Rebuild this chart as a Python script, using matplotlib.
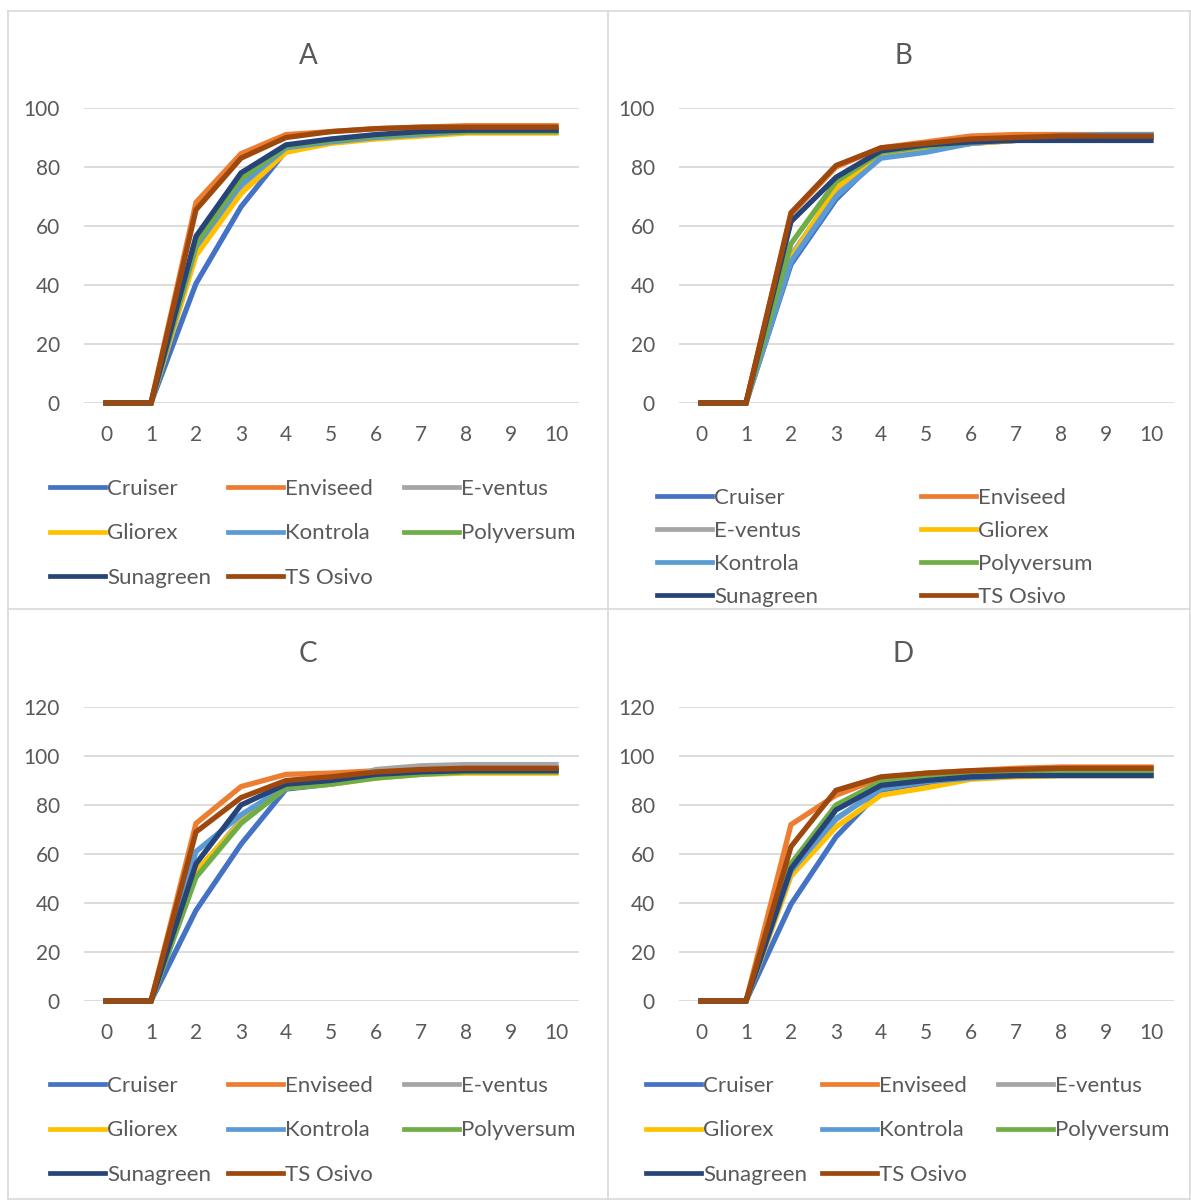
import matplotlib
matplotlib.use("Agg")
import matplotlib.pyplot as plt
from matplotlib.lines import Line2D

plt.rcParams['font.family'] = ['Lato', 'DejaVu Sans']

days = [0, 1, 2, 3, 4, 5, 6, 7, 8, 9, 10]
names = ["Cruiser", "Enviseed", "E-ventus", "Gliorex", "Kontrola",
         "Polyversum", "Sunagreen", "TS Osivo"]
colors = ["#4472C4", "#ED7D31", "#A5A5A5", "#FFC000", "#5B9BD5",
          "#70AD47", "#264478", "#9E480E"]

# one row per variety, same order as names
vals_a = [
    [0, 0, 40.5, 66.5, 85.5, 88.5, 90, 91, 92, 92, 92.5],
    [0, 0, 68, 84.5, 91, 92, 93, 93.5, 94, 94, 94],
    [0, 0, 52, 73, 87, 89, 90.5, 91.5, 92, 92.5, 92.5],
    [0, 0, 50, 71, 85, 88, 89.5, 90.5, 91.5, 91.5, 91.5],
    [0, 0, 53, 74, 86.5, 88.5, 90, 91, 92, 92, 92],
    [0, 0, 54, 76, 87, 89, 90.5, 91.5, 92, 92, 92],
    [0, 0, 56.5, 78, 87.5, 89.5, 91, 92, 92.5, 92.5, 92.5],
    [0, 0, 65.5, 83, 90, 92, 93, 93.5, 93.5, 93.5, 93.5],
]
vals_b = [
    [0, 0, 47, 69, 84, 86, 88, 89, 90, 90.5, 90.5],
    [0, 0, 64, 80, 86.5, 88.5, 90.5, 91, 91, 91, 91],
    [0, 0, 50, 72, 84, 86, 88, 89.5, 90.5, 90.5, 90.5],
    [0, 0, 49, 73, 84.5, 86.5, 88, 89, 90, 90, 90],
    [0, 0, 48, 70, 83, 85, 88, 89.5, 90.5, 91, 91],
    [0, 0, 54, 75, 85, 87, 88.5, 89.5, 90, 90, 90],
    [0, 0, 61.5, 76.5, 85.5, 87.5, 88.5, 89, 89, 89, 89],
    [0, 0, 64.5, 80.5, 86.5, 88, 89.5, 90, 90.5, 90.5, 90.5],
]
vals_c = [
    [0, 0, 37, 64, 86.5, 88.5, 91.5, 93, 94, 94, 94],
    [0, 0, 72.5, 87.5, 92.5, 93, 94, 95, 95, 95, 95],
    [0, 0, 52, 74, 87, 89, 94.5, 96, 96.5, 96.5, 96.5],
    [0, 0, 53, 73, 87, 88.5, 91, 92.5, 93, 93, 93],
    [0, 0, 61, 76, 87.5, 89, 91.5, 93, 94, 94, 94],
    [0, 0, 50.5, 72.5, 87, 88.5, 91, 92.5, 93.5, 93.5, 93.5],
    [0, 0, 56, 80, 88.5, 90, 92.5, 93.5, 94, 94, 94],
    [0, 0, 69, 83, 90, 91.5, 93.5, 94.5, 95, 95, 95],
]
vals_d = [
    [0, 0, 39.5, 67, 86, 89, 91, 92, 92.5, 92.5, 92.5],
    [0, 0, 72, 84, 91, 93, 94, 95, 95.5, 95.5, 95.5],
    [0, 0, 53, 74, 87, 90, 92, 93.5, 94, 94, 94],
    [0, 0, 51, 71, 84, 87, 90.5, 91.5, 92, 92, 92],
    [0, 0, 53, 74.5, 86.5, 89.5, 91, 92, 92.5, 92.5, 92.5],
    [0, 0, 56, 80, 89.5, 92, 93, 94, 94, 94, 94],
    [0, 0, 54, 78, 88, 90, 91.5, 92, 92, 92, 92],
    [0, 0, 63, 86, 91.5, 93, 94, 94.5, 95, 95, 95],
]

W, H = 1191, 1200
fig = plt.figure(figsize=(W / 100, H / 100), dpi=100)

TXT = "#595959"
GRID = "#d9d9d9"

def px(x, y):
    # pixel position -> figure fraction
    return x / W, 1 - y / H

# panel frames
for xs, ys in [((8, 1190), (11, 11)), ((8, 1190), (1199, 1199)),
               ((8, 1190), (609, 609)), ((8, 8), (11, 1199)),
               ((1190, 1190), (11, 1199)), ((608, 608), (11, 1199))]:
    fig.add_artist(Line2D([x / W for x in xs], [1 - y / H for y in ys],
                          color=GRID, lw=1.2))

# title, data, axes box (left, bottom, top px), ymax, title pos,
# legend column x positions, legend top y, label spacing
panels = [
    ("A", vals_a, (83.5, 403, 108), 100, (308, 56), [50, 228, 404], 479, 1.1),
    ("B", vals_b, (678.5, 403, 108), 100, (903, 56), [657, 921], 488, 0.58),
    ("C", vals_c, (83.5, 1001, 707), 120, (308, 654), [50, 228, 404], 1076, 1.1),
    ("D", vals_d, (678.5, 1001, 707), 120, (903, 654), [646, 822, 998], 1076, 1.1),
]

for title, vals, (left, bot, top), ymax, tpos, cols, ly, lsp in panels:
    ax = fig.add_axes([left / W, 1 - bot / H, 495 / W, (bot - top) / H])
    lines = []
    for row, name, c in zip(vals, names, colors):
        ln, = ax.plot(days, row, color=c, lw=3.8, label=name,
                      solid_joinstyle="miter", clip_on=False)
        lines.append(ln)
    ax.set_xlim(-0.5, 10.5)
    ax.set_ylim(0, ymax)
    ax.set_xticks(days)
    ax.set_yticks(range(0, ymax + 1, 20))
    ax.grid(axis="y", color=GRID, lw=1.3)
    ax.set_axisbelow(True)
    for s in ax.spines.values():
        s.set_visible(False)
    ax.tick_params(length=0, labelsize=15, labelcolor=TXT)
    ax.tick_params(axis="x", pad=16)
    ax.tick_params(axis="y", pad=17)
    fig.text(*px(*tpos), title, fontsize=20, color=TXT,
             ha="center", va="center")

    # legend filled row by row, one legend per column
    ncol = len(cols)
    for j, cx in enumerate(cols):
        idx = list(range(j, len(names), ncol))
        leg = fig.legend([lines[i] for i in idx], [names[i] for i in idx],
                         loc="upper left", bbox_to_anchor=px(cx, ly),
                         frameon=False, fontsize=16,
                         handlelength=2.48, handletextpad=0.1,
                         labelspacing=lsp, borderpad=0, borderaxespad=0)
        for t in leg.get_texts():
            t.set_color(TXT)
        for h in leg.legend_handles:
            h.set_linewidth(3.4)

fig.savefig("out.png", dpi=100)
